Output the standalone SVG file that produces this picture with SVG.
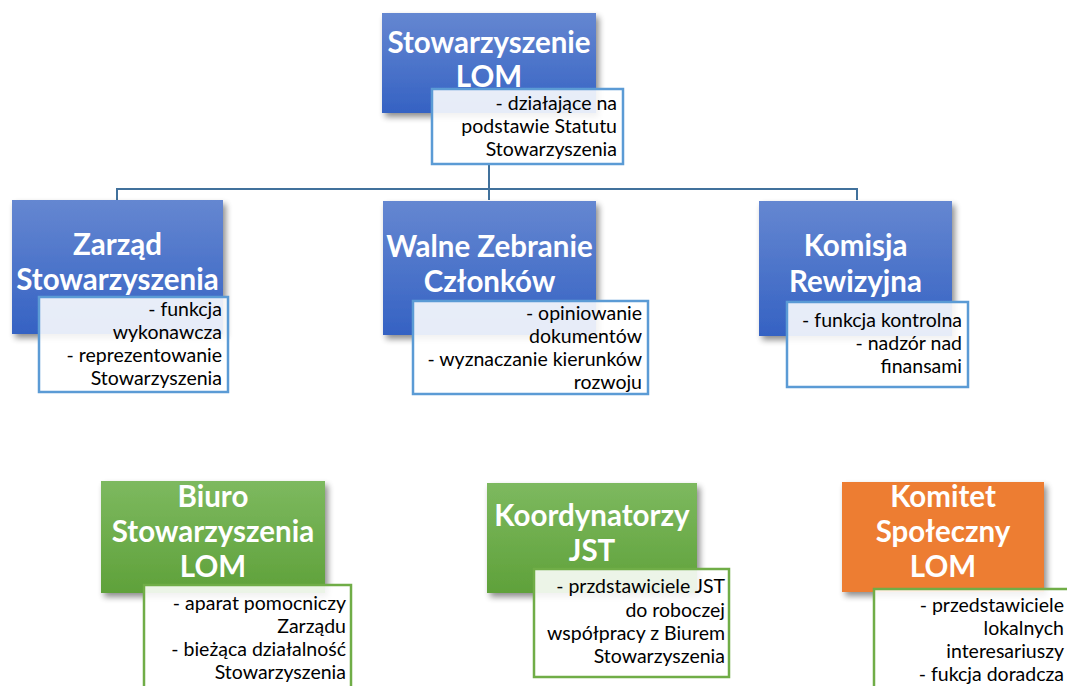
<svg xmlns="http://www.w3.org/2000/svg" width="1067" height="686" viewBox="0 0 1067 686">
<defs>
<linearGradient id="gBlue" x1="0" y1="0" x2="0" y2="1">
<stop offset="0" stop-color="#6587d1"/>
<stop offset="1" stop-color="#3562c3"/>
</linearGradient>
<linearGradient id="gGreen" x1="0" y1="0" x2="0" y2="1">
<stop offset="0" stop-color="#7db95f"/>
<stop offset="1" stop-color="#5fa13a"/>
</linearGradient>
<filter id="sh" x="-10%" y="-10%" width="130%" height="130%">
<feGaussianBlur in="SourceAlpha" stdDeviation="3"/>
<feOffset dx="3" dy="4" result="b"/>
<feComponentTransfer><feFuncA type="linear" slope="0.45"/></feComponentTransfer>
<feMerge><feMergeNode/><feMergeNode in="SourceGraphic"/></feMerge>
</filter>
</defs>
<style>
.title{font-family:Lato,"Liberation Sans",sans-serif;font-weight:bold;font-size:29.5px;fill:#fff;text-anchor:middle}
.desc{font-family:Lato,"Liberation Sans",sans-serif;font-size:19.5px;fill:#000;text-anchor:end}
.blue{fill:url(#gBlue)}
.green{fill:url(#gGreen)}
.orange{fill:#ed7d31}
.dB{fill:#fff;fill-opacity:0.88;stroke:#5b9bd5;stroke-width:2.5}
.dG{fill:#fff;fill-opacity:0.88;stroke:#70ad47;stroke-width:2.5}
.conn{fill:none;stroke:#41719c;stroke-width:2}
</style>
<rect width="1067" height="686" fill="#fff"/>
<g id="connectors">
<path class="conn" d="M489 164 V189 M117 200 V189 H857 V200 M489 189 V200"/>
</g>
<g id="stowarzyszenie">
<rect class="blue" x="382" y="13" width="214" height="100" filter="url(#sh)"/>
<text class="title" x="489" y="53">Stowarzyszenie</text>
<text class="title" x="489" y="87">LOM</text>
<rect class="dB" x="432" y="89" width="191" height="75"/>
<text class="desc" x="617" y="110">- działające na</text>
<text class="desc" x="617" y="133">podstawie Statutu</text>
<text class="desc" x="617" y="156">Stowarzyszenia</text>
</g>
<g id="zarzad">
<rect class="blue" x="12" y="200" width="211" height="134" filter="url(#sh)"/>
<text class="title" x="117.5" y="255">Zarząd</text>
<text class="title" x="117.5" y="290">Stowarzyszenia</text>
<rect class="dB" x="39" y="297" width="189" height="95"/>
<text class="desc" x="222" y="316">- funkcja</text>
<text class="desc" x="222" y="339">wykonawcza</text>
<text class="desc" x="222" y="362">- reprezentowanie</text>
<text class="desc" x="222" y="385">Stowarzyszenia</text>
</g>
<g id="walne">
<rect class="blue" x="383" y="201" width="213" height="134" filter="url(#sh)"/>
<text class="title" x="489.5" y="257">Walne Zebranie</text>
<text class="title" x="489.5" y="292">Członków</text>
<rect class="dB" x="413" y="301" width="235" height="93"/>
<text class="desc" x="642" y="320">- opiniowanie</text>
<text class="desc" x="642" y="343">dokumentów</text>
<text class="desc" x="642" y="366">- wyznaczanie kierunków</text>
<text class="desc" x="642" y="389">rozwoju</text>
</g>
<g id="komisja">
<rect class="blue" x="759" y="201" width="193" height="135" filter="url(#sh)"/>
<text class="title" x="855.5" y="256">Komisja</text>
<text class="title" x="855.5" y="292">Rewizyjna</text>
<rect class="dB" x="787" y="302" width="181" height="85"/>
<text class="desc" x="962" y="327">- funkcja kontrolna</text>
<text class="desc" x="962" y="350">- nadzór nad</text>
<text class="desc" x="962" y="373">finansami</text>
</g>
<g id="biuro">
<rect class="green" x="101" y="481" width="224" height="112" filter="url(#sh)"/>
<text class="title" x="213" y="507">Biuro</text>
<text class="title" x="213" y="542">Stowarzyszenia</text>
<text class="title" x="213" y="577">LOM</text>
<rect class="dG" x="144" y="585" width="207" height="110"/>
<text class="desc" x="346" y="610">- aparat pomocniczy</text>
<text class="desc" x="346" y="633">Zarządu</text>
<text class="desc" x="346" y="656">- bieżąca działalność</text>
<text class="desc" x="346" y="679">Stowarzyszenia</text>
</g>
<g id="koordynatorzy">
<rect class="green" x="487" y="483" width="210" height="110" filter="url(#sh)"/>
<text class="title" x="592" y="526">Koordynatorzy</text>
<text class="title" x="592" y="561">JST</text>
<rect class="dG" x="534" y="569" width="195" height="108"/>
<text class="desc" x="725" y="593">- przdstawiciele JST</text>
<text class="desc" x="725" y="617">do roboczej</text>
<text class="desc" x="725" y="640">współpracy z Biurem</text>
<text class="desc" x="725" y="663">Stowarzyszenia</text>
</g>
<g id="komitet">
<rect class="orange" x="842" y="482" width="202" height="110" filter="url(#sh)"/>
<text class="title" x="943" y="507">Komitet</text>
<text class="title" x="943" y="542">Społeczny</text>
<text class="title" x="943" y="577">LOM</text>
<rect class="dG" x="874" y="589" width="200" height="110"/>
<text class="desc" x="1064" y="612">- przedstawiciele</text>
<text class="desc" x="1064" y="635">lokalnych</text>
<text class="desc" x="1064" y="658">interesariuszy</text>
<text class="desc" x="1064" y="681">- fukcja doradcza</text>
</g>
</svg>
